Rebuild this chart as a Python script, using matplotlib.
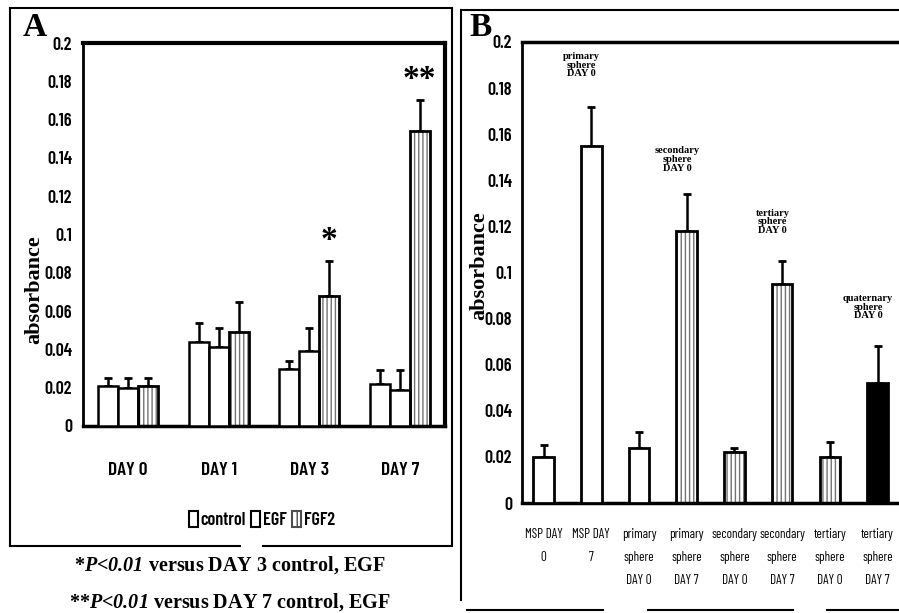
import numpy as np
import matplotlib
matplotlib.use('Agg')
import matplotlib.pyplot as plt
from matplotlib.patches import Patch
from matplotlib.lines import Line2D

NARROW = ['Barlow Condensed', 'Archivo Narrow', 'DejaVu Sans']
SERIF = ['Liberation Serif', 'DejaVu Serif']
# mathtext only used for the italic "P<0.01" bits
plt.rcParams['mathtext.fontset'] = 'custom'
plt.rcParams['mathtext.rm'] = 'Liberation Serif:italic:bold'
plt.rcParams['mathtext.it'] = 'Liberation Serif:italic:bold'
plt.rcParams['mathtext.bf'] = 'Liberation Serif:italic:bold'

# ---- data, panel A ----
days = ['DAY 0', 'DAY 1', 'DAY 3', 'DAY 7']
control = [0.021, 0.044, 0.030, 0.022]
control_sd = [0.004, 0.010, 0.004, 0.007]
egf = [0.020, 0.041, 0.039, 0.019]
egf_sd = [0.005, 0.010, 0.012, 0.010]
fgf2 = [0.021, 0.049, 0.068, 0.154]
fgf2_sd = [0.004, 0.016, 0.018, 0.016]
a_yticks = [0, 0.02, 0.04, 0.06, 0.08, 0.1, 0.12, 0.14, 0.16, 0.18, 0.2]
a_yticklabels = ['0', '0.02', '0.04', '0.06', '0.08', '0.1', '0.12', '0.14', '0.16', '0.18', '0.2']

# ---- data, panel B ----
b_groups = ['MSP DAY\n0', 'MSP DAY\n7', 'primary\nsphere\nDAY 0', 'primary\nsphere\nDAY 7',
            'secondary\nsphere\nDAY 0', 'secondary\nsphere\nDAY 7', 'tertiary\nsphere\nDAY 0',
            'tertiary\nsphere\nDAY 7']
b_vals = [0.020, 0.155, 0.024, 0.118, 0.022, 0.095, 0.020, 0.052]
b_sd = [0.005, 0.017, 0.007, 0.016, 0.002, 0.010, 0.0065, 0.016]
b_fill = ['white', 'white', 'white', 'stipple', 'stipple', 'stipple', 'stipple', 'black']
b_notes = ['primary\nsphere\nDAY 0', 'secondary\nsphere\nDAY 0', 'tertiary\nsphere\nDAY 0',
           'quaternary\nsphere\nDAY 0']
b_note_bars = [1, 3, 5, 7]
b_note_y = [0.190, 0.149, 0.122, 0.085]

W, H = 899, 613
fig = plt.figure(figsize=(W / 100, H / 100), dpi=100)


def fx(px):
    return px / W


def fy(py):
    return 1 - py / H


def stipple_bar(ax, x, h, w):
    # gray vertical texture first, black outline on top
    ax.bar(x, h, w, color='white', edgecolor='0.45', hatch='||||', linewidth=0, zorder=2)
    ax.bar(x, h, w, color='none', edgecolor='black', linewidth=2, zorder=3)


# ---------------- panel A ----------------
axA = fig.add_axes([fx(83), fy(426), fx(445 - 83), fy(43) - fy(426)])
x = np.arange(len(days))
bw = 0.22
for i in range(len(days)):
    axA.bar(x[i] - bw, control[i], bw, color='white', edgecolor='black', linewidth=1.8, zorder=3)
    axA.bar(x[i], egf[i], bw, color='white', edgecolor='black', linewidth=1.8, zorder=3)
    stipple_bar(axA, x[i] + bw, fgf2[i], bw)
axA.errorbar(x - bw, control, yerr=[np.zeros(4), control_sd], fmt='none', ecolor='black',
             elinewidth=1.8, capsize=3, capthick=2, zorder=1)
axA.errorbar(x, egf, yerr=[np.zeros(4), egf_sd], fmt='none', ecolor='black',
             elinewidth=1.8, capsize=3, capthick=2, zorder=1)
axA.errorbar(x + bw, fgf2, yerr=[np.zeros(4), fgf2_sd], fmt='none', ecolor='black',
             elinewidth=1.8, capsize=3, capthick=2, zorder=1)
axA.set_xlim(-0.5, 3.5)
axA.set_ylim(0, 0.2)
axA.set_yticks(a_yticks)
axA.set_yticklabels(a_yticklabels, family=NARROW, fontweight='semibold', fontsize=13)
axA.set_xticks(x)
axA.set_xticklabels(days, family=NARROW, fontweight='semibold', fontsize=14)
axA.tick_params(axis='y', length=0, pad=8)
axA.tick_params(axis='x', length=0, pad=26)
for s in ['top', 'right']:
    axA.spines[s].set_linewidth(3)
axA.spines['left'].set_linewidth(2)
axA.spines['bottom'].set_linewidth(2.5)
# significance marks
axA.text(x[2] + bw, fgf2[2] + fgf2_sd[2] + 0.003, '*', ha='center', va='bottom',
         fontsize=24, fontweight='bold', family=SERIF)
axA.text(x[3] + bw, fgf2[3] + fgf2_sd[3] + 0.003, '**', ha='center', va='bottom',
         fontsize=24, fontweight='bold', family=SERIF)

fig.text(fx(35), fy(28), 'A', fontsize=24, fontweight='bold', family=SERIF, ha='center', va='center')
fig.text(fx(34), fy(290), 'absorbance', fontsize=16, fontweight='bold', family=SERIF,
         rotation=90, ha='center', va='center')

handles = [Patch(facecolor='white', edgecolor='black', linewidth=1.5),
           Patch(facecolor='white', edgecolor='black', linewidth=1.5),
           Patch(facecolor='white', edgecolor='0.3', hatch='|||', linewidth=1.5)]
fig.legend(handles, ['control', 'EGF', 'FGF2'], loc='center', bbox_to_anchor=(fx(262), fy(520)),
           ncol=3, frameon=False, handlelength=0.5, handleheight=1.0, handletextpad=0.15,
           columnspacing=0.3, prop={'family': NARROW, 'weight': 'semibold', 'size': 13})

fig.text(fx(230), fy(565), r'*$P$<$0.01$ versus DAY 3 control, EGF',
         fontsize=14.5, fontweight='bold', family=SERIF, ha='center', va='center')
fig.text(fx(230), fy(602), r'**$P$<$0.01$ versus DAY 7 control, EGF',
         fontsize=14.5, fontweight='bold', family=SERIF, ha='center', va='center')

# outer frame A
frame_kw = dict(color='black', linewidth=1.5, transform=fig.transFigure)
fig.add_artist(Line2D([fx(10), fx(452)], [fy(8), fy(8)], **frame_kw))
fig.add_artist(Line2D([fx(10), fx(10)], [fy(8), fy(546)], **frame_kw))
fig.add_artist(Line2D([fx(452), fx(452)], [fy(8), fy(546)], **frame_kw))
fig.add_artist(Line2D([fx(10), fx(240)], [fy(546), fy(546)], **frame_kw))
fig.add_artist(Line2D([fx(263), fx(452)], [fy(546), fy(546)], **frame_kw))

# ---------------- panel B ----------------
axB = fig.add_axes([fx(521.7), fy(503), 1 - fx(521.7), fy(42) - fy(503)])
xb = np.arange(len(b_groups))
bwb = 0.43
for i in range(len(b_groups)):
    if b_fill[i] == 'stipple':
        stipple_bar(axB, xb[i], b_vals[i], bwb)
    else:
        axB.bar(xb[i], b_vals[i], bwb, color=b_fill[i], edgecolor='black', linewidth=2, zorder=3)
axB.errorbar(xb, b_vals, yerr=[np.zeros(len(b_vals)), b_sd], fmt='none', ecolor='black',
             elinewidth=1.8, capsize=3, capthick=2, zorder=1)
for k, j in enumerate(b_note_bars):
    axB.text(xb[j] - 0.2, b_note_y[k], b_notes[k], ha='center', va='center', fontsize=7.5,
             fontweight='bold', family=SERIF, linespacing=0.95)
axB.set_xlim(-0.46, 7.45)
axB.set_ylim(0, 0.2)
axB.set_yticks(a_yticks)
axB.set_yticklabels(a_yticklabels, family=NARROW, fontweight='semibold', fontsize=13)
axB.set_xticks(xb)
axB.set_xticklabels(b_groups, family=NARROW, fontsize=9.5, linespacing=2.0, va='top')
axB.tick_params(axis='y', length=0, pad=7)
axB.tick_params(axis='x', length=0, pad=18)
axB.spines['right'].set_visible(False)
axB.spines['top'].set_linewidth(2.5)
axB.spines['left'].set_linewidth(2)
axB.spines['bottom'].set_linewidth(2.5)

fig.text(fx(481), fy(28), 'B', fontsize=24, fontweight='bold', family=SERIF, ha='center', va='center')
fig.text(fx(479), fy(266), 'absorbance', fontsize=16, fontweight='bold', family=SERIF,
         rotation=90, ha='center', va='center')

# outer frame B (broken in the scan)
fig.add_artist(Line2D([fx(462), fx(899)], [fy(10), fy(10)], **frame_kw))
fig.add_artist(Line2D([fx(461), fx(461)], [fy(10), fy(600)], **frame_kw))
fig.add_artist(Line2D([fx(467), fx(603)], [fy(610), fy(610)], **frame_kw))
fig.add_artist(Line2D([fx(648), fx(793)], [fy(610), fy(610)], **frame_kw))
fig.add_artist(Line2D([fx(827), fx(899)], [fy(610), fy(610)], **frame_kw))

fig.savefig('out.png', dpi=100)
